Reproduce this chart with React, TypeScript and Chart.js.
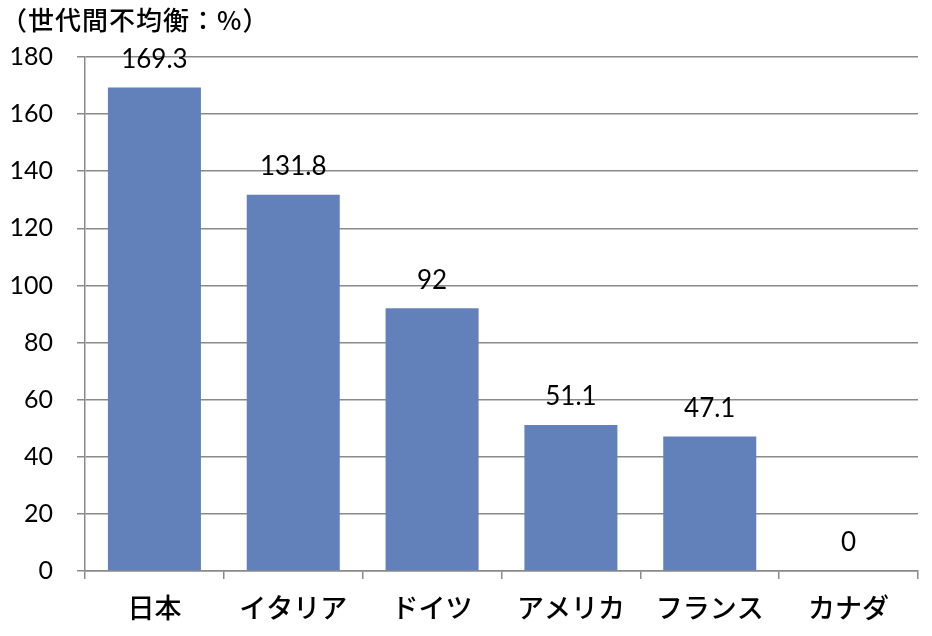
import React, { useEffect, useRef } from "react";
import { Chart, registerables } from "chart.js";

Chart.register(...registerables);

const categories = ["日本", "イタリア", "ドイツ", "アメリカ", "フランス", "カナダ"];
const values = [169.3, 131.8, 92, 51.1, 47.1, 0];
const valueLabels = ["169.3", "131.8", "92", "51.1", "47.1", "0"];
const titleText = "（世代間不均衡：%）";

const NUM_FONT = "Lato, 'Noto Sans', sans-serif";
const JP_FONT = "'Noto Sans CJK JP', 'Noto Sans', sans-serif";
const GRID = "#8a8a8a";

const labelPlugin = {
  id: "valueLabels",
  afterDatasetsDraw(chart: any) {
    const ctx = chart.ctx;
    const meta = chart.getDatasetMeta(0);
    ctx.save();
    ctx.fillStyle = "#000";
    ctx.font = `26px ${NUM_FONT}`;
    ctx.textAlign = "center";
    ctx.textBaseline = "middle";
    meta.data.forEach((bar: any, i: number) => {
      ctx.fillText(valueLabels[i], bar.x, bar.y - 28);
    });
    ctx.restore();
  },
};

const titlePlugin = {
  id: "topTitle",
  afterDraw(chart: any) {
    const ctx = chart.ctx;
    ctx.save();
    ctx.fillStyle = "#000";
    ctx.font = `500 26px ${JP_FONT}`;
    try {
      (ctx as any).letterSpacing = "1px";
    } catch (e) {}
    ctx.textAlign = "left";
    ctx.textBaseline = "middle";
    ctx.fillText(titleText, 1, 20);
    ctx.restore();
  },
};

export default function App() {
  const ref = useRef<HTMLCanvasElement | null>(null);
  useEffect(() => {
    document.body.style.margin = "0";
    if (!ref.current) return;
    const chart = new Chart(ref.current, {
      type: "bar",
      data: {
        labels: categories,
        datasets: [
          {
            data: values,
            backgroundColor: "#6281BA",
            borderWidth: 0,
            barPercentage: 0.67,
            categoryPercentage: 1,
          },
        ],
      },
      options: {
        responsive: false,
        animation: false,
        layout: { padding: { top: 57, right: 14, left: 0, bottom: 0 } },
        plugins: {
          legend: { display: false },
          tooltip: { enabled: false },
          title: { display: false },
        },
        scales: {
          x: {
            grid: {
              display: true,
              offset: true,
              drawOnChartArea: false,
              drawTicks: true,
              tickLength: 8,
              color: GRID,
              lineWidth: 1.5,
            },
            border: { display: true, color: GRID, width: 1.5 },
            ticks: {
              color: "#000",
              font: { family: JP_FONT, size: 27, weight: "500" },
              padding: 13,
              maxRotation: 0,
            },
            afterFit(scale: any) {
              scale.height = 65;
            },
          },
          y: {
            min: 0,
            max: 180,
            ticks: {
              stepSize: 20,
              color: "#000",
              font: { family: NUM_FONT, size: 25 },
              padding: 24,
            },
            grid: {
              color: GRID,
              lineWidth: 1.5,
              tickLength: 8,
              drawTicks: true,
            },
            border: { display: true, color: GRID, width: 1.5 },
            afterFit(scale: any) {
              scale.width = 85;
            },
          },
        },
      },
      plugins: [labelPlugin, titlePlugin],
    });
    return () => chart.destroy();
  }, []);
  return <canvas ref={ref} width={932} height={636} style={{ display: "block" }} />;
}
